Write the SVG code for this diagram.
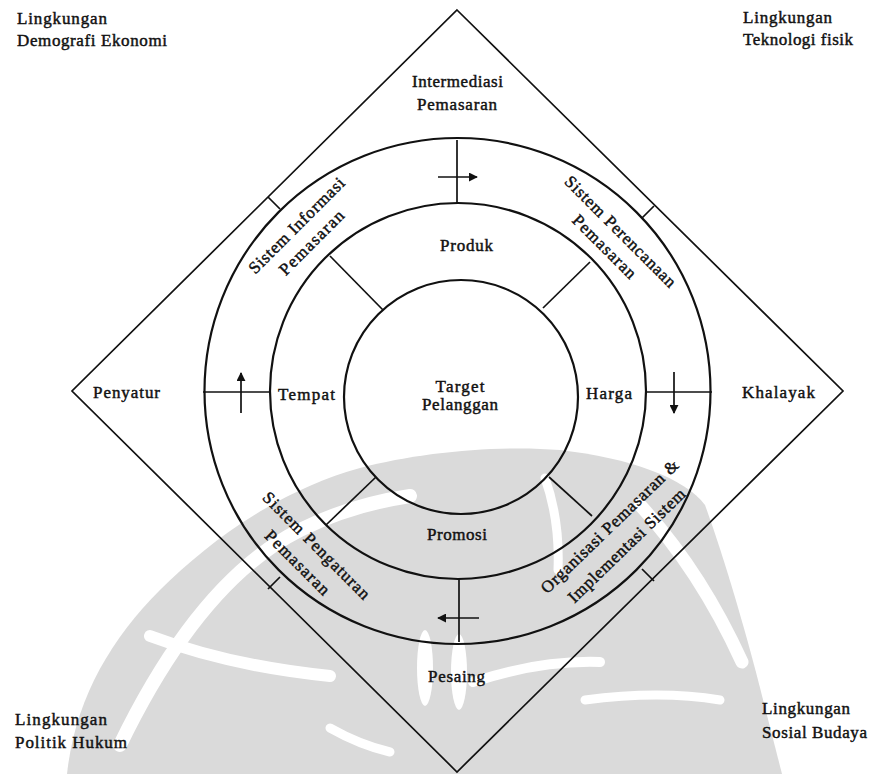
<svg xmlns="http://www.w3.org/2000/svg" width="870" height="774" viewBox="0 0 870 774">
  <defs>
    <style>
      .ln { fill: none; stroke: #111; stroke-width: 1.7; }
      .ring { fill: none; stroke: #111; stroke-width: 2.2; }
      .t { font-family: "Liberation Serif", "Times New Roman", serif; font-size: 17px; fill: #111; stroke: #111; stroke-width: 0.45; }
      .c { text-anchor: middle; }
      .wm { fill: #dadada; }
      .gap { fill: none; stroke: #fff; stroke-linecap: round; }
    </style>
    <marker id="head" viewBox="0 0 10 10" refX="9" refY="5" markerWidth="9" markerHeight="9" markerUnits="userSpaceOnUse" orient="auto">
      <path d="M0,0 L10,5 L0,10 z" fill="#111"/>
    </marker>
  </defs>

  <rect width="870" height="774" fill="#fff"/>

  <!-- faint emblem in the background -->
  <g id="emblem">
    <path class="wm" d="M67,774 C75,700 110,640 160,590 C210,540 280,490 360,468 C420,452 500,445 560,450 C630,458 685,478 705,505 C725,560 745,630 758,680 L782,774 Z"/>
    <path class="gap" stroke-width="14" d="M120,745 Q200,580 300,530 Q350,505 410,496"/>
    <path class="gap" stroke-width="9" d="M545,478 Q560,520 558,570"/>
    <path class="gap" stroke-width="13" d="M640,505 Q700,570 742,662"/>
    <path class="gap" stroke-width="12" d="M150,636 Q230,666 330,676"/>
    <path class="gap" stroke-width="10" d="M473,682 Q540,660 600,662"/>
    <path class="gap" stroke-width="9" d="M330,728 Q360,745 390,752"/>
    <path class="gap" stroke-width="9" d="M585,700 Q660,690 720,700"/>
    <ellipse cx="425" cy="668" rx="8" ry="38" fill="#fff"/>
    <ellipse cx="459" cy="672" rx="8" ry="38" fill="#fff"/>
  </g>

  <!-- environment diamond -->
  <g id="frame">
    <path class="ln" d="M457,10 L843,391 L457,772 L72,391 Z"/>
  </g>

  <!-- rings -->
  <g id="rings">
    <circle class="ring" cx="457.5" cy="391" r="253"/>
    <circle class="ring" cx="458" cy="391" r="188"/>
    <circle class="ring" cx="461" cy="397" r="117"/>
  </g>

  <!-- connectors -->
  <g id="connectors">
    <!-- spokes between inner and middle ring -->
    <line class="ln" x1="383" y1="310" x2="330" y2="256"/>
    <line class="ln" x1="543" y1="308" x2="590" y2="262"/>
    <line class="ln" x1="376" y1="477" x2="326" y2="525"/>
    <line class="ln" x1="549" y1="477" x2="592" y2="516"/>
    <!-- cardinal bars between middle and outer ring -->
    <line class="ln" x1="457" y1="140" x2="457" y2="204"/>
    <line class="ln" x1="459" y1="578" x2="459" y2="642"/>
    <line class="ln" x1="203" y1="392" x2="270" y2="392"/>
    <line class="ln" x1="646" y1="392" x2="712" y2="392"/>
    <!-- flow arrows -->
    <line class="ln" x1="438" y1="177" x2="477" y2="177" marker-end="url(#head)"/>
    <line class="ln" x1="241" y1="413" x2="241" y2="373" marker-end="url(#head)"/>
    <line class="ln" x1="674" y1="372" x2="674" y2="413" marker-end="url(#head)"/>
    <line class="ln" x1="479" y1="618" x2="438" y2="618" marker-end="url(#head)"/>
    <!-- ticks between outer ring and diamond -->
    <line class="ln" x1="268" y1="197" x2="280" y2="209"/>
    <line class="ln" x1="654" y1="206" x2="642" y2="218"/>
    <line class="ln" x1="268" y1="589" x2="280" y2="577"/>
    <line class="ln" x1="642" y1="569" x2="654" y2="581"/>
  </g>

  <!-- corner environments -->
  <g id="env-demografi">
    <text class="t" x="17" y="24" textLength="90">Lingkungan</text>
    <text class="t" x="17" y="46" textLength="150">Demografi Ekonomi</text>
  </g>
  <g id="env-teknologi">
    <text class="t" x="743" y="23" textLength="89">Lingkungan</text>
    <text class="t" x="743" y="45" textLength="110">Teknologi fisik</text>
  </g>
  <g id="env-politik">
    <text class="t" x="15" y="725" textLength="92">Lingkungan</text>
    <text class="t" x="15" y="748" textLength="112">Politik Hukum</text>
  </g>
  <g id="env-sosial">
    <text class="t" x="762" y="714" textLength="88">Lingkungan</text>
    <text class="t" x="762" y="738" textLength="105">Sosial Budaya</text>
  </g>

  <!-- diamond actors -->
  <g id="intermediasi">
    <text class="t" x="412" y="87" textLength="91">Intermediasi</text>
    <text class="t" x="417" y="110" textLength="80">Pemasaran</text>
  </g>
  <g id="penyatur">
    <text class="t" x="93" y="398" textLength="67">Penyatur</text>
  </g>
  <g id="khalayak">
    <text class="t" x="742" y="398" textLength="73">Khalayak</text>
  </g>
  <g id="pesaing">
    <text class="t" x="428" y="682" textLength="57">Pesaing</text>
  </g>

  <!-- marketing mix -->
  <g id="produk">
    <text class="t" x="440" y="251" textLength="53">Produk</text>
  </g>
  <g id="tempat">
    <text class="t" x="278" y="400" textLength="57">Tempat</text>
  </g>
  <g id="harga">
    <text class="t" x="586" y="399" textLength="46">Harga</text>
  </g>
  <g id="promosi">
    <text class="t" x="427" y="540" textLength="60">Promosi</text>
  </g>
  <g id="target">
    <text class="t c" x="460" y="392" textLength="49">Target</text>
    <text class="t c" x="460" y="410" textLength="76">Pelanggan</text>
  </g>

  <!-- marketing systems on the outer ring -->
  <g id="sistem-informasi">
    <text class="t c" transform="translate(300.5,229.5) rotate(-45)" textLength="128">Sistem Informasi</text>
    <text class="t c" transform="translate(315.5,246.5) rotate(-45)" textLength="84">Pemasaran</text>
  </g>
  <g id="sistem-perencanaan">
    <text class="t c" transform="translate(616.5,235.5) rotate(45)" textLength="150">Sistem Perencanaan</text>
    <text class="t c" transform="translate(600.5,250.5) rotate(45)" textLength="83">Pemasaran</text>
  </g>
  <g id="sistem-pengaturan">
    <text class="t c" transform="translate(312.5,549.5) rotate(45)" textLength="144">Sistem Pengaturan</text>
    <text class="t c" transform="translate(293.5,566.5) rotate(45)" textLength="84">Pemasaran</text>
  </g>
  <g id="organisasi">
    <text class="t c" transform="translate(613.5,530.5) rotate(-44)" textLength="184">Organisasi Pemasaran &amp;</text>
    <text class="t c" transform="translate(630.5,549.5) rotate(-44)" textLength="156">Implementasi Sistem</text>
  </g>
</svg>
